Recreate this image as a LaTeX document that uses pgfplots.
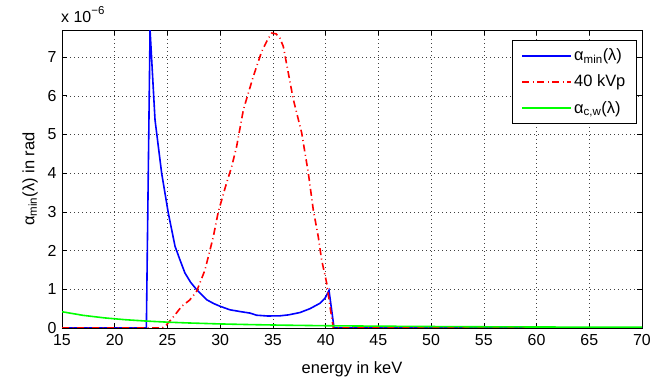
\documentclass[border=0pt]{standalone}
\usepackage{fontspec}
\setmainfont{Liberation Sans}
\usepackage{pgfplots}
\pgfplotsset{compat=1.18}
\begin{document}
\fontsize{16}{19}\selectfont
\begin{tikzpicture}
\path[use as bounding box] (0bp,0bp) rectangle (670bp,382bp);
\begin{axis}[
  at={(62bp,54bp)}, anchor=south west,
  scale only axis, width=580bp, height=298bp,
  xmin=15, xmax=70, ymin=0, ymax=7.7,
  xtick={15,20,...,70}, ytick={0,1,...,7},
  tick align=inside, tick pos=both, major tick length=5bp,
  grid=major,
  major grid style={black!75, line width=0.5bp, dash pattern=on 0.6bp off 3.4bp},
  axis line style={black, line width=0.8bp},
  every tick/.style={black, line width=0.6bp},
  tick label style={font=\fontsize{16}{19}\selectfont},
  xticklabel style={yshift=-1bp},
  /pgf/number format/assume math mode=true,
  xlabel={energy in keV},
  ylabel={α\textsubscript{min}(λ) in rad},
  xlabel style={font=\fontsize{16.5}{19}\selectfont, yshift=-5bp},
  ylabel style={font=\fontsize{16.5}{19}\selectfont, yshift=-1bp},
  legend style={at={(0.991,0.966)}, anchor=north east, draw=black, line width=0.8bp,
    font=\fontsize{16.5}{19}\selectfont, row sep=8bp, inner xsep=9bp, inner ysep=6bp},
  legend cell align=left,
  legend image code/.code={\draw[#1, line width=1.8bp] (0pt,0pt) -- (49bp,0pt);},
  clip=true,
]
\addplot[blue, line width=1.6bp] coordinates {
(15,0) (23.0,0) (23.35,7.7) (23.82,5.38) (24.45,4.0) (25.08,2.97) (25.72,2.11)
(26.2,1.75) (26.66,1.42) (27.2,1.18) (27.77,0.99) (28.72,0.73) (29.4,0.63) (30.0,0.56)
(30.93,0.47) (32.0,0.42) (32.83,0.385) (33.46,0.33) (34.5,0.31) (35.67,0.315)
(36.5,0.34) (37.57,0.40) (38.52,0.50) (39.47,0.64) (39.94,0.77) (40.32,0.97)
(40.8,0) (45,0) (50,0) (55,0) (60,0) (65,0) (70,0)
};
\addlegendentry{α\textsubscript{min}(λ)}
\addplot[red, line width=1.6bp, dash pattern=on 7bp off 3.5bp on 1bp off 3.5bp] coordinates {
(15,0) (24.5,0) (24.9,0.08) (25.6,0.3) (26.35,0.56) (27.1,0.72) (27.77,0.95) (28.56,1.5)
(29.35,2.36) (29.82,3.0) (30.5,3.65) (31.09,4.17) (31.56,4.69) (32.2,5.64) (33.14,6.5)
(33.93,7.14) (34.5,7.45) (34.88,7.62) (35.3,7.6) (35.67,7.49) (35.99,7.27) (36.46,6.59)
(36.94,5.9) (37.73,5.04) (38.36,4.0) (38.83,3.05) (39.3,2.36) (39.62,1.76) (40.1,1.16)
(40.41,0.56) (40.73,0) (45,0) (50,0) (55,0) (60,0) (65,0) (70,0)
};
\addlegendentry{40 kVp}
\addplot[green, line width=1.6bp] coordinates {
(15,0.42) (17,0.327) (19,0.262) (21,0.214) (23,0.179) (25,0.151) (27,0.130)
(30,0.105) (33,0.087) (36,0.073) (40,0.059) (45,0.047) (50,0.038) (55,0.031)
(60,0.026) (65,0.022) (70,0.019)
};
\addlegendentry{α\textsubscript{c,w}(λ)}
\end{axis}
\node[anchor=base west, inner sep=0pt] at (61bp,359bp) {x 10\raisebox{0.55em}{\fontsize{11.5}{12}\selectfont −6}};
\end{tikzpicture}
\end{document}
